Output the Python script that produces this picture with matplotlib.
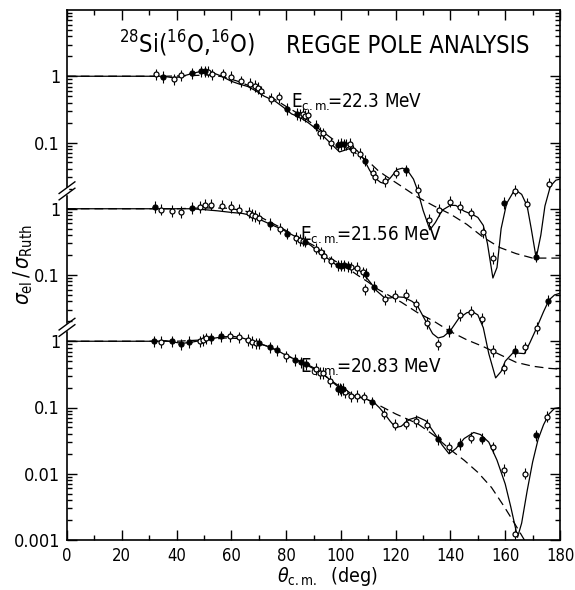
import numpy as np
import matplotlib
matplotlib.use("Agg")
import matplotlib.pyplot as plt
from matplotlib.ticker import FixedLocator, FixedFormatter, LogLocator, NullFormatter, MultipleLocator

plt.rcParams['font.family'] = ['DejaVu Sans']
plt.rcParams['font.stretch'] = 'condensed'
plt.rcParams['mathtext.fontset'] = 'custom'
plt.rcParams['mathtext.rm'] = 'DejaVu Sans:stretch=condensed'
plt.rcParams['mathtext.it'] = 'DejaVu Sans:italic:stretch=condensed'

# ---- data: 22.3 MeV (shifted by 1e4 on the plot) ----
th_223 = [32.4, 34.9, 38.9, 41.8, 45.5, 49.1, 50.5, 51.6, 53.1, 57.1, 60.0, 63.6, 66.9, 68.7,
          69.8, 70.9, 74.5, 77.5, 80.4, 84.0, 85.0, 86.0, 87.0, 88.0, 91.0, 92.4, 93.5, 96.4,
          99.0, 100.0, 101.0, 102.0, 103.3, 104.4, 106.9, 108.7, 111.6, 112.4, 116.0, 120.0,
          123.6, 128.0, 132.0, 136.0, 140.0, 143.6, 147.6, 152.0, 155.6, 159.6, 163.6, 168.0,
          171.3, 176.0]
r_223 = [1.07, 0.97, 0.90, 1.03, 1.11, 1.19, 1.19, 1.17, 1.07, 1.07, 0.97, 0.84, 0.76, 0.71,
         0.66, 0.59, 0.46, 0.48, 0.32, 0.27, 0.26, 0.27, 0.25, 0.26, 0.18, 0.14, 0.137, 0.097,
         0.092, 0.095, 0.094, 0.093, 0.095, 0.076, 0.068, 0.053, 0.035, 0.030, 0.026, 0.035,
         0.038, 0.0195, 0.0068, 0.0096, 0.0128, 0.0107, 0.0085, 0.0044, 0.0018, 0.0123, 0.0187,
         0.012, 0.0019, 0.024]
f_223 = [0, 1, 0, 0, 1, 1, 1, 0, 0, 0, 0, 0, 0, 0,
         0, 0, 0, 0, 1, 1, 0, 0, 0, 0, 1, 0, 0, 0,
         1, 1, 1, 0, 0, 0, 0, 1, 0, 0, 0, 0,
         1, 0, 0, 0, 0, 0, 0, 0, 0, 1, 0, 0,
         1, 0]
fit_th_223 = [0, 30, 35, 38, 41, 45, 49, 52, 56, 60, 63, 66, 69, 72, 76, 79, 82, 85, 88, 91, 94,
              96.5, 99.5, 102, 104, 106, 108.5, 110.5, 112.5, 114.5, 116, 118, 120.5, 122.5, 124.5,
              126.5, 128, 130, 132.5, 134.5, 137, 140, 142, 145, 148, 150, 152, 153.5, 155.5, 157,
              158.5, 160.5, 163.5, 166, 168, 169.5, 171.3, 173, 174.5, 176.5, 178.5, 180]
fit_r_223 = [1.0, 1.0, 1.0, 0.96, 0.97, 1.08, 1.19, 1.18, 1.02, 0.84, 0.76, 0.70, 0.60, 0.50, 0.42,
             0.34, 0.27, 0.24, 0.20, 0.16, 0.12, 0.095, 0.072, 0.078, 0.083, 0.075, 0.055, 0.038,
             0.029, 0.025, 0.024, 0.029, 0.039, 0.041, 0.037, 0.028, 0.019, 0.0095, 0.0048, 0.0062,
             0.0095, 0.0113, 0.0112, 0.0092, 0.0082, 0.0074, 0.0056, 0.003, 0.0009, 0.0013, 0.005,
             0.012, 0.0195, 0.0165, 0.011, 0.005, 0.0018, 0.004, 0.011, 0.022, 0.027, 0.028]
dsh_th_223 = [0, 35, 45, 52, 57, 62, 68, 74, 80, 86, 92, 98, 104, 110, 113.5, 116, 122, 128, 134,
              140, 146, 152, 158, 164, 170, 176, 180]
dsh_r_223 = [1.0, 1.0, 1.02, 1.05, 0.98, 0.85, 0.68, 0.50, 0.35, 0.25, 0.16, 0.105, 0.075, 0.052,
             0.038, 0.032, 0.022, 0.015, 0.011, 0.0083, 0.0058, 0.0037, 0.0026, 0.0021, 0.0018,
             0.0018, 0.0018]

# ---- data: 21.56 MeV (shifted by 1e2) ----
th_2156 = [32.0, 34.5, 38.5, 41.8, 45.5, 48.7, 50.5, 52.7, 56.7, 60.0, 62.9, 66.5, 67.6, 68.7,
           70.2, 74.2, 77.8, 80.4, 83.6, 85.0, 86.0, 87.0, 91.0, 92.7, 93.8, 96.4, 99.0, 100.0,
           101.0, 102.5, 103.6, 106.0, 108.0, 109.0, 108.7, 112.0, 116.0, 119.6, 123.6, 127.6,
           131.6, 135.6, 139.6, 143.6, 147.6, 151.6, 155.6, 159.6, 163.6, 167.3, 171.6, 175.6]
r_2156 = [1.07, 0.97, 0.93, 0.90, 1.03, 1.07, 1.15, 1.15, 1.11, 1.07, 0.97, 0.87, 0.81, 0.78,
          0.73, 0.59, 0.50, 0.42, 0.36, 0.34, 0.33, 0.32, 0.25, 0.22, 0.195, 0.16, 0.14, 0.138,
          0.14, 0.135, 0.13, 0.127, 0.11, 0.105, 0.061, 0.067, 0.043, 0.048, 0.050, 0.036,
          0.019, 0.0090, 0.0142, 0.025, 0.028, 0.022, 0.0071, 0.0039, 0.0071, 0.0081, 0.0158, 0.041]
f_2156 = [1, 0, 0, 0, 1, 0, 0, 0, 0, 0, 0, 0, 0, 0,
          0, 1, 0, 1, 0, 0, 0, 1, 0, 0, 0, 0, 1, 1,
          1, 1, 0, 0, 0, 1, 0, 1, 0, 0, 0, 0,
          0, 0, 1, 0, 0, 0, 0, 0, 1, 0, 0, 1]
fit_th_2156 = [0, 35, 40, 45, 50, 55, 60, 64, 67, 70, 74, 78, 81, 85, 89, 92, 95, 98, 101, 104,
               107, 109, 111, 113, 116, 118, 120, 123, 126, 128, 131, 133.5, 135.5, 137.5, 140,
               143, 146, 148, 150, 152, 154, 156.5, 158.5, 160, 163, 165, 167, 169, 171.5, 174,
               176, 178, 180]
fit_r_2156 = [1.0, 1.0, 1.0, 1.0, 0.97, 0.93, 0.88, 0.85, 0.80, 0.70, 0.59, 0.50, 0.43, 0.35, 0.28,
              0.22, 0.18, 0.145, 0.135, 0.13, 0.115, 0.095, 0.075, 0.058, 0.045, 0.045, 0.047,
              0.046, 0.040, 0.034, 0.020, 0.013, 0.0112, 0.0118, 0.0145, 0.022, 0.027, 0.028,
              0.025, 0.016, 0.0065, 0.0028, 0.0035, 0.005, 0.0068, 0.0066, 0.0065, 0.0095, 0.016,
              0.028, 0.042, 0.050, 0.053]
dsh_th_2156 = [0, 40, 50, 58, 64, 68, 72, 78, 84, 90, 96, 102, 106, 110, 113.5, 118, 122, 128,
               134, 140, 146, 152, 158, 164, 170, 176, 180]
dsh_r_2156 = [1.0, 1.0, 1.03, 1.02, 0.95, 0.85, 0.70, 0.52, 0.38, 0.28, 0.18, 0.13, 0.10, 0.078,
              0.061, 0.048, 0.039, 0.027, 0.020, 0.014, 0.0105, 0.0083, 0.0063, 0.0048, 0.0042,
              0.0039, 0.0038]

# ---- data: 20.83 MeV (unshifted) ----
th_2083 = [31.6, 34.2, 38.2, 41.5, 44.7, 48.4, 49.5, 50.9, 52.4, 56.4, 59.6, 62.9, 66.2, 67.6,
           69.0, 70.2, 74.2, 76.7, 80.0, 83.3, 85.5, 87.3, 91.0, 92.4, 93.5, 96.0, 99.0, 99.6,
           100.2, 100.7, 101.5, 103.6, 105.8, 108.4, 111.3, 115.6, 119.6, 123.6, 127.6, 131.6,
           135.6, 139.6, 143.6, 147.6, 151.6, 155.6, 159.6, 163.6, 167.3, 171.3, 175.3]
r_2083 = [1.0, 0.97, 1.0, 0.90, 0.97, 1.0, 1.04, 1.11, 1.11, 1.19, 1.19, 1.15, 1.04, 0.97,
          0.93, 0.93, 0.81, 0.73, 0.59, 0.52, 0.48, 0.45, 0.38, 0.33, 0.33, 0.25, 0.19, 0.195,
          0.185, 0.19, 0.17, 0.147, 0.15, 0.142, 0.12, 0.081, 0.055, 0.057, 0.063, 0.055,
          0.033, 0.025, 0.028, 0.035, 0.034, 0.025, 0.0114, 0.00123, 0.010, 0.038, 0.073]
f_2083 = [1, 0, 1, 1, 1, 0, 0, 0, 1, 1, 0, 0, 0, 0,
          0, 1, 1, 1, 0, 1, 1, 1, 0, 0, 0, 0, 1, 1,
          1, 1, 0, 0, 0, 0, 1, 0, 0, 0, 0, 0,
          1, 0, 1, 0, 1, 0, 0, 0, 0, 1, 0]
fit_th_2083 = [0, 33, 36, 39, 42, 45, 49, 53, 57, 61, 64, 67, 70, 74, 77, 80, 84, 88, 91, 94, 97,
               100, 103, 106, 109, 112, 114, 116, 118, 120, 122, 125, 128, 131, 134, 137, 139.5,
               142, 145, 148.5, 151, 154, 157, 160, 162, 164.5, 166, 168, 170, 172, 174, 176, 178, 180]
fit_r_2083 = [1.0, 1.0, 1.02, 0.97, 0.93, 0.96, 1.03, 1.10, 1.17, 1.18, 1.12, 1.03, 0.93, 0.82,
              0.72, 0.61, 0.52, 0.44, 0.38, 0.31, 0.24, 0.19, 0.16, 0.145, 0.135, 0.12, 0.10,
              0.080, 0.062, 0.050, 0.052, 0.066, 0.072, 0.063, 0.042, 0.027, 0.020, 0.024, 0.034,
              0.042, 0.039, 0.030, 0.016, 0.0070, 0.0032, 0.0011, 0.0018, 0.0055, 0.015, 0.033,
              0.055, 0.080, 0.097, 0.10]
dsh_th_2083 = [0, 40, 50, 58, 63, 68, 74, 80, 86, 92, 98, 104, 110, 114.5, 120, 128, 134, 140,
               145, 150, 155, 159.6, 163, 167, 169]
dsh_r_2083 = [1.0, 1.0, 1.05, 1.12, 1.10, 0.98, 0.82, 0.62, 0.47, 0.35, 0.23, 0.16, 0.13, 0.105,
              0.08, 0.057, 0.038, 0.023, 0.016, 0.0105, 0.0062, 0.0032, 0.0019, 0.001, 0.0007]

sets = [
    (th_223, r_223, f_223, fit_th_223, fit_r_223, dsh_th_223, dsh_r_223, 1e4),
    (th_2156, r_2156, f_2156, fit_th_2156, fit_r_2156, dsh_th_2156, dsh_r_2156, 1e2),
    (th_2083, r_2083, f_2083, fit_th_2083, fit_r_2083, dsh_th_2083, dsh_r_2083, 1.0),
]
rel_err = 0.22

fig = plt.figure(figsize=(5.75, 5.9), dpi=100)
ax = fig.add_axes([67/575, 50/590, 493/575, 530/590])

for th, r, f, fth, fr, dth, dr, shift in sets:
    th = np.array(th)
    r = np.array(r) * shift
    f = np.array(f, dtype=bool)
    ax.plot(fth, np.array(fr) * shift, color='k', lw=0.9, zorder=2)
    ax.plot(dth, np.array(dr) * shift, color='k', lw=0.9, dashes=(7, 4), zorder=2)
    yerr = [r * (1 - 1 / (1 + rel_err)), r * rel_err]
    for mask, face in [(~f, 'white'), (f, 'k')]:
        ax.errorbar(th[mask], r[mask], yerr=[yerr[0][mask], yerr[1][mask]],
                    xerr=0.8 if face == 'k' else None,
                    fmt='o', ms=3.6, mfc=face, mec='k', mew=0.9,
                    ecolor='k', elinewidth=0.8, capsize=0, zorder=3)

ax.set_yscale('log')
ax.set_xlim(0, 180)
ax.set_ylim(1e-3, 1e5)

ax.xaxis.set_major_locator(MultipleLocator(20))
ax.xaxis.set_minor_locator(MultipleLocator(10))
ax.yaxis.set_major_locator(FixedLocator([1e-3, 1e-2, 1e-1, 1, 1e1, 1e2, 1e3, 1e4]))
ax.yaxis.set_major_formatter(FixedFormatter(['0.001', '0.01', '0.1', '1', '0.1', '1', '0.1', '1']))
ax.yaxis.set_minor_locator(LogLocator(base=10, subs=np.arange(2, 10), numticks=20))
ax.yaxis.set_minor_formatter(NullFormatter())

ax.tick_params(which='both', direction='in', top=True, right=True, labelsize=13, width=1.0)
ax.tick_params(axis='x', labelsize=12)
ax.tick_params(which='major', length=7, pad=5)
ax.tick_params(which='minor', length=3.5)
for s in ax.spines.values():
    s.set_linewidth(1.2)

# broken-axis marks on the left spine
for yb in [10**2.27, 10**0.21]:
    yf = (np.log10(yb) + 3) / 8
    for dy in (-0.006, 0.006):
        ax.plot([-0.016, 0.016], [yf + dy - 0.011, yf + dy + 0.011], color='k', lw=1.0,
                transform=ax.transAxes, clip_on=False, zorder=6)
    ax.plot([0, 0], [yf - 0.004, yf + 0.004], color='white', lw=2.5,
            transform=ax.transAxes, clip_on=False, zorder=5)

ax.text(0.105, 0.918, r'$^{28}$Si($^{16}$O,$^{16}$O)', transform=ax.transAxes, fontsize=17)
ax.text(0.445, 0.918, 'REGGE POLE ANALYSIS', transform=ax.transAxes, fontsize=17)
ax.text(0.455, 0.815, r'E$_{\rm c.m.}\!\!$=22.3 MeV', transform=ax.transAxes, fontsize=13.5)
ax.text(0.473, 0.565, r'E$_{\rm c.m.}\!\!$=21.56 MeV', transform=ax.transAxes, fontsize=13.5)
ax.text(0.473, 0.315, r'E$_{\rm c.m.}\!\!$=20.83 MeV', transform=ax.transAxes, fontsize=13.5)

fig.text(23/575, 1 - 265/590, r'$\sigma_{\rm el}\,/\,\sigma_{\rm Ruth}$', rotation=90,
         ha='center', va='center', fontsize=15)
fig.text(327/575, 1 - 577/590, r'$\theta_{\rm c.m.}$  (deg)', ha='center', va='center',
         fontsize=14)

fig.savefig('out.png', dpi=100)
